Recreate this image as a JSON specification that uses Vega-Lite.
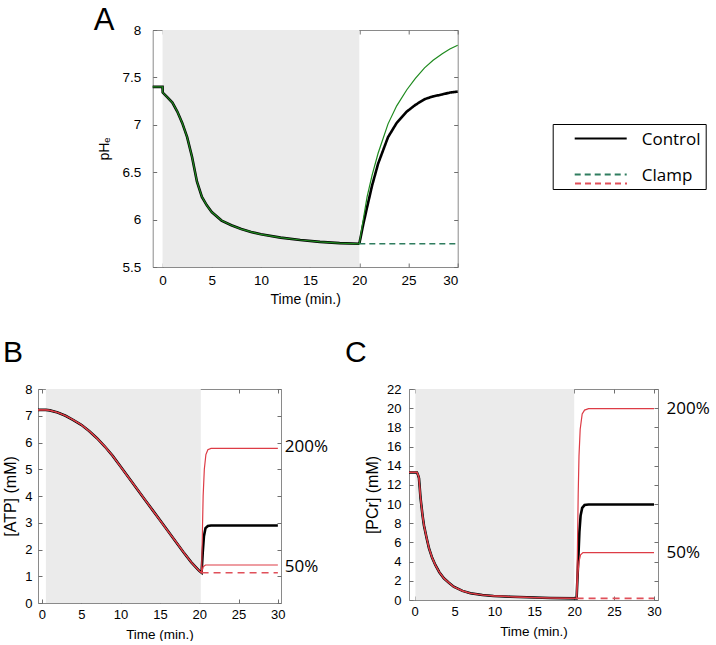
{
  "$schema": "https://vega.github.io/schema/vega-lite/v6.json",
  "background": "#ffffff",
  "padding": {"left": 2, "top": 4, "right": 0, "bottom": 0},
  "bounds": "flush",
  "spacing": 359,
  "config": {
    "view": {"stroke": "#8a8a8a", "strokeWidth": 1},
    "axis": {"domain": false, "grid": false, "tickColor": "#6f6f6f", "tickSize": -4, "tickWidth": 1, "labelFont": "Liberation Sans", "labelColor": "#000000", "titleFont": "Liberation Sans", "titleFontWeight": "normal", "titleColor": "#000000", "labelFontSize": 13, "titleFontSize": 13.5},
    "title": {"font": "Liberation Sans", "fontWeight": "normal", "color": "#000000", "anchor": "start", "frame": "group"},
    "text": {"font": "Open Sans", "fontSize": 17, "color": "#000000"}
  },
  "datasets": {
    "A": [
      {"t": -1, "v": 7.40, "series": "Ischemia"}, {"t": 0, "v": 7.40, "series": "Ischemia"}, {"t": 0.02, "v": 7.34, "series": "Ischemia"}, {"t": 0.5, "v": 7.29, "series": "Ischemia"}, {"t": 1, "v": 7.235, "series": "Ischemia"}, {"t": 1.5, "v": 7.14, "series": "Ischemia"}, {"t": 2, "v": 7.02, "series": "Ischemia"}, {"t": 2.5, "v": 6.87, "series": "Ischemia"}, {"t": 3, "v": 6.66, "series": "Ischemia"}, {"t": 3.5, "v": 6.40, "series": "Ischemia"}, {"t": 4, "v": 6.24, "series": "Ischemia"}, {"t": 4.5, "v": 6.15, "series": "Ischemia"}, {"t": 5, "v": 6.08, "series": "Ischemia"}, {"t": 6, "v": 5.99, "series": "Ischemia"}, {"t": 7, "v": 5.94, "series": "Ischemia"}, {"t": 8, "v": 5.90, "series": "Ischemia"}, {"t": 9, "v": 5.87, "series": "Ischemia"}, {"t": 10, "v": 5.845, "series": "Ischemia"}, {"t": 12, "v": 5.81, "series": "Ischemia"}, {"t": 14, "v": 5.785, "series": "Ischemia"}, {"t": 16, "v": 5.765, "series": "Ischemia"}, {"t": 18, "v": 5.752, "series": "Ischemia"}, {"t": 20, "v": 5.745, "series": "Ischemia"},
      {"t": 20, "v": 5.745, "series": "Control"}, {"t": 20.4, "v": 5.95, "series": "Control"}, {"t": 20.79, "v": 6.13, "series": "Control"}, {"t": 21.3, "v": 6.36, "series": "Control"}, {"t": 21.91, "v": 6.59, "series": "Control"}, {"t": 22.92, "v": 6.87, "series": "Control"}, {"t": 23.8, "v": 7.02, "series": "Control"}, {"t": 24.83, "v": 7.14, "series": "Control"}, {"t": 25.7, "v": 7.21, "series": "Control"}, {"t": 26.63, "v": 7.27, "series": "Control"}, {"t": 27.5, "v": 7.30, "series": "Control"}, {"t": 28.43, "v": 7.32, "series": "Control"}, {"t": 29.2, "v": 7.34, "series": "Control"}, {"t": 30, "v": 7.35, "series": "Control"},
      {"t": 20, "v": 5.745, "series": "Variant"}, {"t": 20.4, "v": 6.0, "series": "Variant"}, {"t": 20.79, "v": 6.24, "series": "Variant"}, {"t": 21.3, "v": 6.47, "series": "Variant"}, {"t": 21.91, "v": 6.70, "series": "Variant"}, {"t": 22.92, "v": 7.01, "series": "Variant"}, {"t": 23.8, "v": 7.20, "series": "Variant"}, {"t": 24.83, "v": 7.37, "series": "Variant"}, {"t": 25.7, "v": 7.49, "series": "Variant"}, {"t": 26.63, "v": 7.60, "series": "Variant"}, {"t": 27.5, "v": 7.68, "series": "Variant"}, {"t": 28.43, "v": 7.75, "series": "Variant"}, {"t": 29.2, "v": 7.80, "series": "Variant"}, {"t": 30, "v": 7.84, "series": "Variant"},
      {"t": 20, "v": 5.745, "series": "Clamp"}, {"t": 30, "v": 5.745, "series": "Clamp"}
    ],
    "B": [
      {"t": -0.5, "v": 7.22, "series": "Ischemia"}, {"t": 0.5, "v": 7.22, "series": "Ischemia"}, {"t": 1, "v": 7.2, "series": "Ischemia"}, {"t": 2, "v": 7.12, "series": "Ischemia"}, {"t": 3, "v": 7.0, "series": "Ischemia"}, {"t": 4, "v": 6.84, "series": "Ischemia"}, {"t": 5, "v": 6.66, "series": "Ischemia"}, {"t": 6, "v": 6.43, "series": "Ischemia"}, {"t": 7, "v": 6.16, "series": "Ischemia"}, {"t": 8, "v": 5.85, "series": "Ischemia"}, {"t": 9, "v": 5.5, "series": "Ischemia"}, {"t": 10, "v": 5.1, "series": "Ischemia"}, {"t": 11, "v": 4.7, "series": "Ischemia"}, {"t": 12, "v": 4.3, "series": "Ischemia"}, {"t": 13, "v": 3.9, "series": "Ischemia"}, {"t": 14, "v": 3.5, "series": "Ischemia"}, {"t": 15, "v": 3.1, "series": "Ischemia"}, {"t": 16, "v": 2.7, "series": "Ischemia"}, {"t": 17, "v": 2.3, "series": "Ischemia"}, {"t": 18, "v": 1.9, "series": "Ischemia"}, {"t": 19, "v": 1.52, "series": "Ischemia"}, {"t": 20, "v": 1.2, "series": "Ischemia"}, {"t": 20.3, "v": 1.13, "series": "Ischemia"},
      {"t": 20.3, "v": 1.13, "series": "Control"}, {"t": 20.45, "v": 1.9, "series": "Control"}, {"t": 20.6, "v": 2.5, "series": "Control"}, {"t": 20.8, "v": 2.8, "series": "Control"}, {"t": 21.1, "v": 2.88, "series": "Control"}, {"t": 21.5, "v": 2.9, "series": "Control"}, {"t": 30, "v": 2.9, "series": "Control"},
      {"t": 20.3, "v": 1.13, "series": "200%"}, {"t": 20.4, "v": 2.6, "series": "200%"}, {"t": 20.5, "v": 4.0, "series": "200%"}, {"t": 20.65, "v": 5.0, "series": "200%"}, {"t": 20.85, "v": 5.55, "series": "200%"}, {"t": 21.1, "v": 5.73, "series": "200%"}, {"t": 21.5, "v": 5.78, "series": "200%"}, {"t": 30, "v": 5.78, "series": "200%"},
      {"t": 20.3, "v": 1.13, "series": "50%"}, {"t": 20.5, "v": 1.35, "series": "50%"}, {"t": 20.8, "v": 1.42, "series": "50%"}, {"t": 30, "v": 1.42, "series": "50%"},
      {"t": 20.3, "v": 1.13, "series": "Clamp"}, {"t": 30, "v": 1.13, "series": "Clamp"}
    ],
    "C": [
      {"t": -0.7, "v": 13.3, "series": "Ischemia"}, {"t": 0.3, "v": 13.3, "series": "Ischemia"}, {"t": 0.45, "v": 13.0, "series": "Ischemia"}, {"t": 0.55, "v": 12.7, "series": "Ischemia"}, {"t": 0.75, "v": 10.6, "series": "Ischemia"}, {"t": 1.0, "v": 8.8, "series": "Ischemia"}, {"t": 1.17, "v": 7.8, "series": "Ischemia"}, {"t": 1.5, "v": 6.5, "series": "Ischemia"}, {"t": 1.8, "v": 5.4, "series": "Ischemia"}, {"t": 2.2, "v": 4.4, "series": "Ischemia"}, {"t": 2.6, "v": 3.65, "series": "Ischemia"}, {"t": 3.1, "v": 2.9, "series": "Ischemia"}, {"t": 3.67, "v": 2.26, "series": "Ischemia"}, {"t": 4.3, "v": 1.8, "series": "Ischemia"}, {"t": 4.9, "v": 1.39, "series": "Ischemia"}, {"t": 6, "v": 0.95, "series": "Ischemia"}, {"t": 7, "v": 0.7, "series": "Ischemia"}, {"t": 8.5, "v": 0.52, "series": "Ischemia"}, {"t": 9.9, "v": 0.42, "series": "Ischemia"}, {"t": 12, "v": 0.34, "series": "Ischemia"}, {"t": 14.1, "v": 0.28, "series": "Ischemia"}, {"t": 17, "v": 0.21, "series": "Ischemia"}, {"t": 20.3, "v": 0.17, "series": "Ischemia"},
      {"t": 20.3, "v": 0.17, "series": "Control"}, {"t": 20.5, "v": 4.0, "series": "Control"}, {"t": 20.65, "v": 7.1, "series": "Control"}, {"t": 20.8, "v": 8.8, "series": "Control"}, {"t": 21.0, "v": 9.6, "series": "Control"}, {"t": 21.3, "v": 9.9, "series": "Control"}, {"t": 21.8, "v": 9.95, "series": "Control"}, {"t": 30, "v": 9.95, "series": "Control"},
      {"t": 20.3, "v": 0.17, "series": "200%"}, {"t": 20.4, "v": 5, "series": "200%"}, {"t": 20.5, "v": 11, "series": "200%"}, {"t": 20.6, "v": 15, "series": "200%"}, {"t": 20.75, "v": 17.8, "series": "200%"}, {"t": 21.0, "v": 19.4, "series": "200%"}, {"t": 21.3, "v": 19.8, "series": "200%"}, {"t": 21.8, "v": 19.95, "series": "200%"}, {"t": 30, "v": 19.95, "series": "200%"},
      {"t": 20.3, "v": 0.17, "series": "50%"}, {"t": 20.45, "v": 2.5, "series": "50%"}, {"t": 20.6, "v": 4.0, "series": "50%"}, {"t": 20.8, "v": 4.7, "series": "50%"}, {"t": 21.1, "v": 4.95, "series": "50%"}, {"t": 30, "v": 4.95, "series": "50%"},
      {"t": 20.3, "v": 0.17, "series": "Clamp"}, {"t": 30, "v": 0.17, "series": "Clamp"}
    ]
  },
  "vconcat": [
    {
      "bounds": "flush",
      "spacing": 14.7,
      "hconcat": [
        {"width": 100, "height": 237, "view": {"stroke": null}, "data": {"values": []}, "mark": "point", "encoding": {}},
        {
          "width": 305,
          "height": 237,
          "title": {"text": "A", "fontSize": 31, "dx": -59, "offset": -13.5},
          "resolve": {"axis": {"x": "independent", "y": "independent"}},
          "layer": [
            {
              "data": {"values": [{"start": 0, "end": 20}]},
              "mark": {"type": "rect", "color": "#ebebeb"},
              "encoding": {
                "x": {"field": "start", "type": "quantitative", "scale": {"domain": [-1, 30], "nice": false, "zero": false}, "axis": {"orient": "bottom", "values": [0, 5, 10, 15, 20, 25, 30], "title": "Time (min.)", "labelFontSize": 13.5, "titleFontSize": 14, "labelPadding": 10, "titlePadding": 6}},
                "x2": {"field": "end"}
              }
            },
            {
              "data": {"name": "A"},
              "transform": [{"filter": {"field": "series", "equal": "Ischemia"}}],
              "mark": {"type": "line", "color": "#000000", "strokeWidth": 2.6},
              "encoding": {
                "x": {"field": "t", "type": "quantitative", "scale": {"domain": [-1, 30], "nice": false, "zero": false}, "axis": null},
                "y": {"field": "v", "type": "quantitative", "scale": {"domain": [5.5, 8], "nice": false, "zero": false}, "axis": {"orient": "left", "values": [5.5, 6, 6.5, 7, 7.5, 8], "format": "~g", "title": "pHₑ", "labelFontSize": 13.5, "titleFontSize": 14, "labelPadding": 16, "titlePadding": 10}}
              }
            },
            {
              "data": {"name": "A"},
              "transform": [{"filter": {"field": "series", "equal": "Control"}}],
              "mark": {"type": "line", "strokeWidth": 2.6},
              "encoding": {
                "x": {"field": "t", "type": "quantitative", "scale": {"domain": [-1, 30], "nice": false, "zero": false}, "axis": null},
                "y": {"field": "v", "type": "quantitative", "scale": {"domain": [5.5, 8], "nice": false, "zero": false}, "axis": null},
                "color": {"field": "series", "type": "nominal", "scale": {"domain": ["Control", "Clamp"], "range": ["#000000", "#2f7d5f"]}, "legend": {"orient": "none", "legendX": 514.7, "legendY": 94, "title": null, "strokeColor": "#000000", "fillColor": "#ffffff", "padding": 5, "symbolType": "M-2.6,-0.15H2.6", "symbolSize": 400, "symbolStrokeWidth": 2, "symbolOffset": 32, "labelOffset": 30, "labelFont": "Open Sans", "labelFontSize": 17, "labelColor": "#000000", "rowPadding": 17}},
                "strokeDash": {"field": "series", "type": "nominal", "scale": {"domain": ["Control", "Clamp"], "range": [[1, 0], [6, 4]]}, "legend": {"orient": "none", "legendX": 514.7, "legendY": 94, "title": null, "strokeColor": "#000000", "fillColor": "#ffffff", "padding": 5, "symbolType": "M-2.6,-0.15H2.6", "symbolSize": 400, "symbolStrokeWidth": 2, "symbolOffset": 32, "labelOffset": 30, "labelFont": "Open Sans", "labelFontSize": 17, "labelColor": "#000000", "rowPadding": 17}}
              }
            },
            {
              "data": {"name": "A"},
              "transform": [{"filter": {"field": "series", "oneOf": ["Ischemia", "Variant"]}}],
              "mark": {"type": "line", "color": "#1e8a1e", "strokeWidth": 1.2},
              "encoding": {
                "x": {"field": "t", "type": "quantitative", "scale": {"domain": [-1, 30], "nice": false, "zero": false}, "axis": {"orient": "top", "values": [0, 5, 10, 15, 20, 25, 30], "labels": false, "title": null}},
                "y": {"field": "v", "type": "quantitative", "scale": {"domain": [5.5, 8], "nice": false, "zero": false}, "axis": {"orient": "right", "values": [5.5, 6, 6.5, 7, 7.5, 8], "labels": false, "title": null}}
              }
            },
            {
              "data": {"name": "A"},
              "transform": [{"filter": {"field": "series", "equal": "Clamp"}}],
              "mark": {"type": "line", "strokeWidth": 1.6},
              "encoding": {
                "x": {"field": "t", "type": "quantitative", "scale": {"domain": [-1, 30], "nice": false, "zero": false}, "axis": null},
                "y": {"field": "v", "type": "quantitative", "scale": {"domain": [5.5, 8], "nice": false, "zero": false}, "axis": null},
                "color": {"field": "series", "type": "nominal", "scale": {"domain": ["Control", "Clamp"], "range": ["#000000", "#2f7d5f"]}, "legend": {"orient": "none", "legendX": 514.7, "legendY": 94, "title": null, "strokeColor": "#000000", "fillColor": "#ffffff", "padding": 5, "symbolType": "M-2.6,-0.15H2.6", "symbolSize": 400, "symbolStrokeWidth": 2, "symbolOffset": 32, "labelOffset": 30, "labelFont": "Open Sans", "labelFontSize": 17, "labelColor": "#000000", "rowPadding": 17}},
                "strokeDash": {"field": "series", "type": "nominal", "scale": {"domain": ["Control", "Clamp"], "range": [[1, 0], [6, 4]]}, "legend": {"orient": "none", "legendX": 514.7, "legendY": 94, "title": null, "strokeColor": "#000000", "fillColor": "#ffffff", "padding": 5, "symbolType": "M-2.6,-0.15H2.6", "symbolSize": 400, "symbolStrokeWidth": 2, "symbolOffset": 32, "labelOffset": 30, "labelFont": "Open Sans", "labelFontSize": 17, "labelColor": "#000000", "rowPadding": 17}}
              }
            }
          ]
        }
      ]
    },
    {
      "bounds": "flush",
      "spacing": 128,
      "hconcat": [
        {
          "width": 243,
          "height": 214,
          "title": {"text": "B", "fontSize": 30, "dx": -35, "offset": 15.5},
          "resolve": {"axis": {"x": "independent", "y": "independent"}},
          "layer": [
            {
              "data": {"values": [{"start": 0.5, "end": 20.2}]},
              "mark": {"type": "rect", "color": "#ebebeb"},
              "encoding": {
                "x": {"field": "start", "type": "quantitative", "scale": {"domain": [-0.5, 30.4], "nice": false, "zero": false}, "axis": {"orient": "bottom", "values": [0, 5, 10, 15, 20, 25, 30], "title": "Time (min.)", "labelPadding": 9, "titlePadding": 6}},
                "x2": {"field": "end"}
              }
            },
            {
              "data": {"name": "B"},
              "transform": [{"filter": {"field": "series", "oneOf": ["Ischemia", "Control"]}}],
              "mark": {"type": "line", "color": "#000000", "strokeWidth": 2.6},
              "encoding": {
                "x": {"field": "t", "type": "quantitative", "scale": {"domain": [-0.5, 30.4], "nice": false, "zero": false}, "axis": null},
                "y": {"field": "v", "type": "quantitative", "scale": {"domain": [0, 8], "nice": false, "zero": false}, "axis": {"orient": "left", "values": [0, 1, 2, 3, 4, 5, 6, 7, 8], "title": "[ATP] (mM)", "titleFontSize": 16, "labelPadding": 10, "titlePadding": 6}}
              }
            },
            {
              "data": {"name": "B"},
              "transform": [{"filter": {"field": "series", "oneOf": ["Ischemia", "200%"]}}],
              "mark": {"type": "line", "color": "#dd3c46", "strokeWidth": 1.2},
              "encoding": {
                "x": {"field": "t", "type": "quantitative", "scale": {"domain": [-0.5, 30.4], "nice": false, "zero": false}, "axis": {"orient": "top", "values": [0, 5, 10, 15, 20, 25, 30], "labels": false, "title": null}},
                "y": {"field": "v", "type": "quantitative", "scale": {"domain": [0, 8], "nice": false, "zero": false}, "axis": {"orient": "right", "values": [0, 1, 2, 3, 4, 5, 6, 7, 8], "labels": false, "title": null}}
              }
            },
            {
              "data": {"name": "B"},
              "transform": [{"filter": {"field": "series", "oneOf": ["Ischemia", "50%"]}}],
              "mark": {"type": "line", "color": "#dd3c46", "strokeWidth": 1.2},
              "encoding": {
                "x": {"field": "t", "type": "quantitative", "scale": {"domain": [-0.5, 30.4], "nice": false, "zero": false}, "axis": null},
                "y": {"field": "v", "type": "quantitative", "scale": {"domain": [0, 8], "nice": false, "zero": false}, "axis": null}
              }
            },
            {
              "data": {"name": "B"},
              "transform": [{"filter": {"field": "series", "equal": "Clamp"}}],
              "mark": {"type": "line", "strokeWidth": 1.6, "strokeDash": [7, 5]},
              "encoding": {
                "x": {"field": "t", "type": "quantitative", "scale": {"domain": [-0.5, 30.4], "nice": false, "zero": false}, "axis": null},
                "y": {"field": "v", "type": "quantitative", "scale": {"domain": [0, 8], "nice": false, "zero": false}, "axis": null},
                "stroke": {"field": "series", "type": "nominal", "scale": {"domain": ["Clamp"], "range": ["#e0505a"]}, "legend": {"orient": "none", "legendX": 552, "legendY": 142.6, "title": null, "padding": 0, "symbolType": "M-2.6,0H2.6", "symbolSize": 400, "symbolStrokeWidth": 2, "symbolDash": [6, 4], "symbolOffset": 0, "labelExpr": "''"}}
              }
            },
            {
              "data": {"values": [{"t": 30, "v": 5.85, "label": "200%"}, {"t": 30, "v": 1.34, "label": "50%"}]},
              "mark": {"type": "text", "align": "left", "baseline": "middle", "dx": 7},
              "encoding": {
                "x": {"field": "t", "type": "quantitative", "scale": {"domain": [-0.5, 30.4], "nice": false, "zero": false}, "axis": null},
                "y": {"field": "v", "type": "quantitative", "scale": {"domain": [0, 8], "nice": false, "zero": false}, "axis": null},
                "text": {"field": "label"}
              }
            }
          ]
        },
        {
          "width": 249,
          "height": 211,
          "title": {"text": "C", "fontSize": 30, "dx": -64, "offset": 15.5},
          "resolve": {"axis": {"x": "independent", "y": "independent"}},
          "layer": [
            {
              "data": {"values": [{"start": 0.1, "end": 20}]},
              "mark": {"type": "rect", "color": "#ebebeb"},
              "encoding": {
                "x": {"field": "start", "type": "quantitative", "scale": {"domain": [-0.7, 30.5], "nice": false, "zero": false}, "axis": {"orient": "bottom", "values": [0, 5, 10, 15, 20, 25, 30], "title": "Time (min.)", "labelPadding": 9, "titlePadding": 6}},
                "x2": {"field": "end"}
              }
            },
            {
              "data": {"name": "C"},
              "transform": [{"filter": {"field": "series", "oneOf": ["Ischemia", "Control"]}}],
              "mark": {"type": "line", "color": "#000000", "strokeWidth": 2.6},
              "encoding": {
                "x": {"field": "t", "type": "quantitative", "scale": {"domain": [-0.7, 30.5], "nice": false, "zero": false}, "axis": null},
                "y": {"field": "v", "type": "quantitative", "scale": {"domain": [0, 22], "nice": false, "zero": false}, "axis": {"orient": "left", "values": [0, 2, 4, 6, 8, 10, 12, 14, 16, 18, 20, 22], "title": "[PCr] (mM)", "titleFontSize": 16, "labelPadding": 12, "titlePadding": 6}}
              }
            },
            {
              "data": {"name": "C"},
              "transform": [{"filter": {"field": "series", "oneOf": ["Ischemia", "200%"]}}],
              "mark": {"type": "line", "color": "#dd3c46", "strokeWidth": 1.2},
              "encoding": {
                "x": {"field": "t", "type": "quantitative", "scale": {"domain": [-0.7, 30.5], "nice": false, "zero": false}, "axis": {"orient": "top", "values": [0, 5, 10, 15, 20, 25, 30], "labels": false, "title": null}},
                "y": {"field": "v", "type": "quantitative", "scale": {"domain": [0, 22], "nice": false, "zero": false}, "axis": {"orient": "right", "values": [0, 2, 4, 6, 8, 10, 12, 14, 16, 18, 20, 22], "labels": false, "title": null}}
              }
            },
            {
              "data": {"name": "C"},
              "transform": [{"filter": {"field": "series", "oneOf": ["Ischemia", "50%"]}}],
              "mark": {"type": "line", "color": "#dd3c46", "strokeWidth": 1.2},
              "encoding": {
                "x": {"field": "t", "type": "quantitative", "scale": {"domain": [-0.7, 30.5], "nice": false, "zero": false}, "axis": null},
                "y": {"field": "v", "type": "quantitative", "scale": {"domain": [0, 22], "nice": false, "zero": false}, "axis": null}
              }
            },
            {
              "data": {"name": "C"},
              "transform": [{"filter": {"field": "series", "equal": "Clamp"}}],
              "mark": {"type": "line", "color": "#e0505a", "strokeWidth": 1.6, "strokeDash": [7, 5]},
              "encoding": {
                "x": {"field": "t", "type": "quantitative", "scale": {"domain": [-0.7, 30.5], "nice": false, "zero": false}, "axis": null},
                "y": {"field": "v", "type": "quantitative", "scale": {"domain": [0, 22], "nice": false, "zero": false}, "axis": null}
              }
            },
            {
              "data": {"values": [{"t": 30, "v": 19.95, "label": "200%"}, {"t": 30, "v": 4.86, "label": "50%"}]},
              "mark": {"type": "text", "align": "left", "baseline": "middle", "dx": 12.5},
              "encoding": {
                "x": {"field": "t", "type": "quantitative", "scale": {"domain": [-0.7, 30.5], "nice": false, "zero": false}, "axis": null},
                "y": {"field": "v", "type": "quantitative", "scale": {"domain": [0, 22], "nice": false, "zero": false}, "axis": null},
                "text": {"field": "label"}
              }
            }
          ]
        }
      ]
    }
  ]
}
